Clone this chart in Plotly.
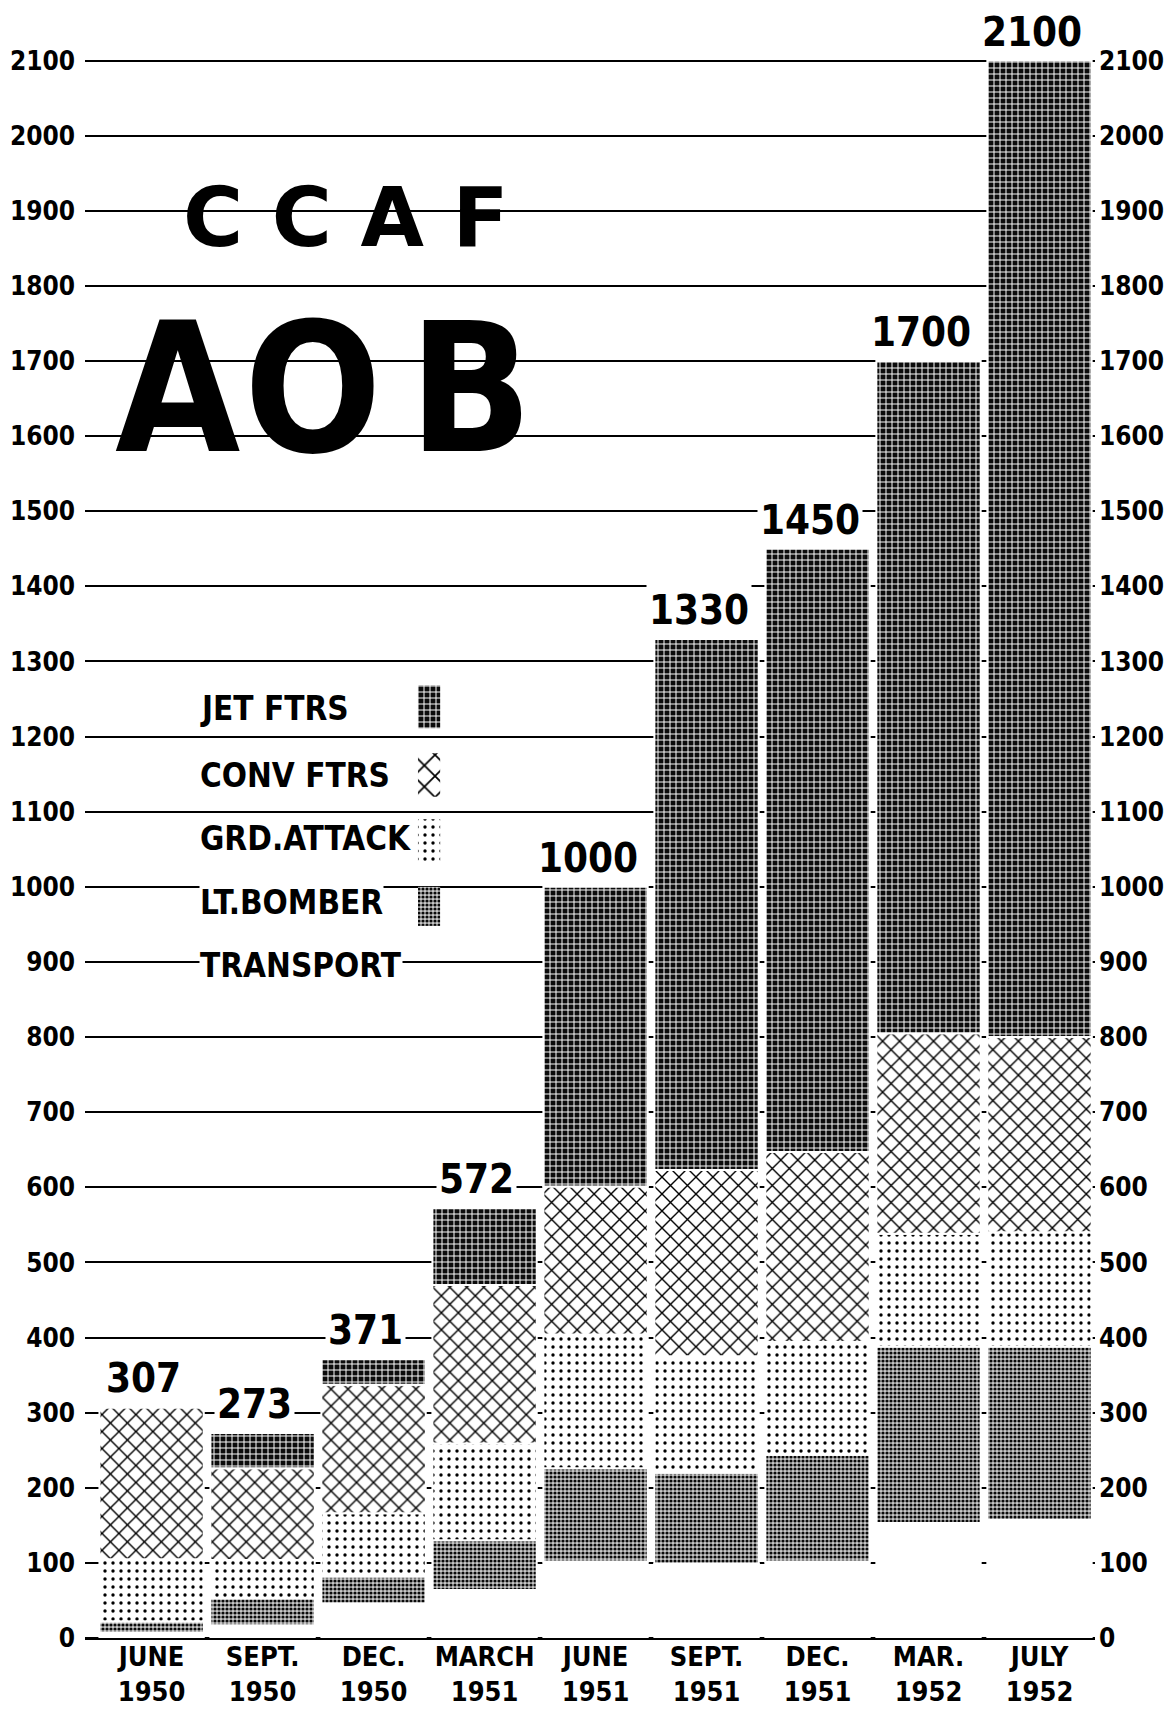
import numpy as np
import plotly.graph_objects as go

# ---------------- data ----------------
months = ["JUNE", "SEPT.", "DEC.", "MARCH", "JUNE", "SEPT.", "DEC.", "MAR.", "JULY"]
years = ["1950", "1950", "1950", "1951", "1951", "1951", "1951", "1952", "1952"]
categories = [f"{m}<br>{y}" for m, y in zip(months, years)]

transport = [7, 17, 46, 64, 102, 99, 102, 153, 157]
lt_bomber = [15, 36, 36, 66, 124, 121, 142, 235, 231]
grd_attack = [83, 51, 84, 129, 178, 155, 150, 150, 152]
conv_ftrs = [202, 122, 171, 211, 197, 248, 253, 267, 260]
jet_ftrs = [0, 47, 34, 102, 399, 707, 803, 895, 1300]
totals = [307, 273, 371, 572, 1000, 1330, 1450, 1700, 2100]

ytick_vals = list(range(0, 2101, 100))
ytick_text = [str(v) for v in ytick_vals]

legend_labels = ["JET FTRS", "CONV FTRS", "GRD.ATTACK", "LT.BOMBER", "TRANSPORT"]

# ---------------- styles ----------------
FONT = "DejaVu Sans Condensed, DejaVu Sans, sans-serif"
HEAVY = "DejaVu Sans, sans-serif"

styles = {
    "TRANSPORT": dict(color="white", pattern=None),
    "LT.BOMBER": dict(color="#8a8a8a", pattern=dict(shape=".", fgcolor="#0a0a0a", bgcolor="#c8c8c8",
                                                     size=4, solidity=0.5, fillmode="replace")),
    "GRD.ATTACK": dict(color="white", pattern=dict(shape=".", fgcolor="#000000", bgcolor="white",
                                                    size=8, solidity=0.14, fillmode="replace")),
    "CONV FTRS": dict(color="white", pattern=dict(shape="x", fgcolor="#000000", bgcolor="white",
                                                   size=12, solidity=0.22, fillmode="replace")),
    "JET FTRS": dict(color="#222222", pattern=dict(shape="+", fgcolor="white", bgcolor="#0c0c0c",
                                                    size=6, solidity=0.3, fillmode="replace")),
}

layers = [("TRANSPORT", transport), ("LT.BOMBER", lt_bomber), ("GRD.ATTACK", grd_attack),
          ("CONV FTRS", conv_ftrs), ("JET FTRS", jet_ftrs)]

fig = go.Figure()
cum = np.zeros(len(categories))
for name, vals in layers:
    vals = np.array(vals, dtype=float)
    st = styles[name]
    marker = dict(color=st["color"], line=dict(color="white", width=2))
    if st["pattern"] is not None:
        marker["pattern"] = st["pattern"]
    fig.add_trace(go.Bar(
        x=categories, y=vals, base=cum.copy(), name=name, marker=marker,
        showlegend=False, hoverinfo="skip",
    ))
    cum = cum + vals

# invisible trace to activate right-hand axis
fig.add_trace(go.Scatter(x=categories, y=totals, yaxis="y2", mode="markers",
                         marker=dict(opacity=0), showlegend=False, hoverinfo="skip"))

# legend swatches (small bars on an overlaid linear x axis)
swatch_rows = [("JET FTRS", 1211, 57), ("CONV FTRS", 1120, 58), ("GRD.ATTACK", 1032, 58), ("LT.BOMBER", 948, 52)]
for name, b, h in swatch_rows:
    st = styles[name]
    pat = dict(st["pattern"])
    if name == "CONV FTRS":
        pat["size"] = 15
    fig.add_trace(go.Bar(
        x=[2.5], y=[h], base=[b], width=[0.2], xaxis="x2",
        marker=dict(color=st["color"], pattern=pat, line=dict(width=0)),
        showlegend=False, hoverinfo="skip",
    ))

annotations = []
# bar-top totals
for c, t in zip(categories, totals):
    annotations.append(dict(
        x=c, y=t, xref="x", yref="y", text=str(t), showarrow=False,
        yanchor="bottom", xanchor="center", yshift=3, xshift=-8,
        font=dict(family=FONT, size=40, color="black", weight="bold"),
        bgcolor="white", borderpad=2,
    ))

# legend texts
legend_y = [1238, 1148, 1065, 979, 895]
for lab, yv in zip(legend_labels, legend_y):
    annotations.append(dict(
        x=(199 - 85) / 1010, y=yv, xref="paper", yref="y", text=lab, showarrow=False,
        xanchor="left", yanchor="middle",
        font=dict(family=FONT, size=33, color="black", weight="bold"),
        bgcolor="white", borderpad=0,
    ))

# CCAF title
annotations.append(dict(
    x=(345 - 85) / 1010, y=1891, xref="paper", yref="y", text="C C A F", showarrow=False,
    xanchor="center", yanchor="middle",
    font=dict(family=HEAVY, size=82, color="black", weight="bold"),
))
# AOB big letters
for letter, px in zip(["A", "O", "B"], [177, 313, 470]):
    annotations.append(dict(
        x=(px - 85) / 1010, y=1663, xref="paper", yref="y", text=letter, showarrow=False,
        xanchor="center", yanchor="middle",
        font=dict(family=FONT, size=180, color="black", weight="bold"),
    ))

tickfont = dict(family=FONT, size=26, color="black", weight="bold")

# the page body adds an 8px offset, so margins are reduced accordingly
fig.update_layout(
    width=1176, height=1712,
    margin=dict(l=77, r=89, t=15, b=82, autoexpand=False),
    paper_bgcolor="white", plot_bgcolor="white",
    barmode="overlay", bargap=0.06,
    xaxis=dict(type="category", range=[-0.6, 8.5], showgrid=False, showline=False,
               ticks="", tickfont=dict(family=FONT, size=27, color="black", weight="bold"),
               ticklabelstandoff=0, zeroline=False, automargin=False),
    xaxis2=dict(overlaying="x", type="linear", range=[-0.6, 8.5], visible=False, automargin=False),
    yaxis=dict(range=[0, 2150], tickvals=ytick_vals, ticktext=ytick_text,
               showgrid=True, gridcolor="black", gridwidth=1.5,
               zeroline=True, zerolinecolor="black", zerolinewidth=3,
               showline=False, ticks="", tickfont=tickfont, ticklabelstandoff=9,
               automargin=False),
    yaxis2=dict(overlaying="y", side="right", range=[0, 2150], tickvals=ytick_vals,
                ticktext=ytick_text, showgrid=False, zeroline=False, showline=False,
                ticks="", tickfont=tickfont, ticklabelstandoff=3, automargin=False),
    annotations=annotations,
)

fig.write_html("out.html")
